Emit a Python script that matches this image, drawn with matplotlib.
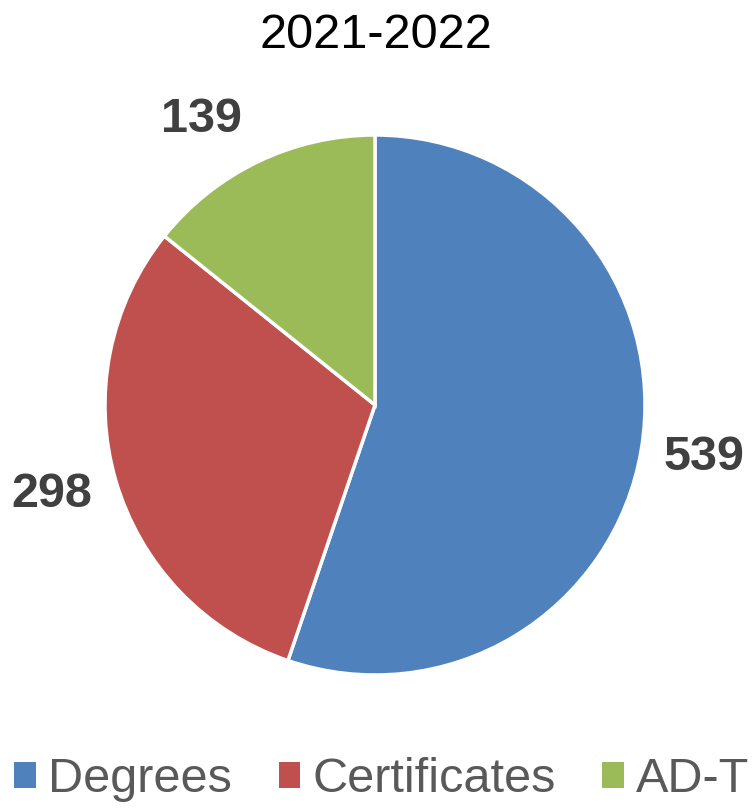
import matplotlib
matplotlib.use('Agg')
import matplotlib.pyplot as plt
from matplotlib.patches import Patch

# data
categories = ['Degrees', 'Certificates', 'AD-T']
values = [539, 298, 139]
colors = ['#4F81BD', '#C0504D', '#9BBB59']
title = '2021-2022'

# label positions (pie units, centre = 0,0, radius = 1)
label_pos = [(1.219, -0.196), (-1.196, -0.333), (-0.641, 1.059)]

plt.rcParams['font.family'] = ['Liberation Sans', 'DejaVu Sans']

fig = plt.figure(figsize=(7.52, 8.08), dpi=100)
ax = fig.add_axes([105/752, (808-405-270)/808, 540/752, 540/808])

wedges, texts = ax.pie(values, colors=colors, startangle=90, counterclock=False,
                       labels=[str(v) for v in values], labeldistance=1.08,
                       wedgeprops=dict(edgecolor='white', linewidth=2.5),
                       textprops=dict(fontsize=35, fontweight='bold', color='#404040'))
for t, p in zip(texts, label_pos):
    t.set_position(p)
    t.set_ha('center')
    t.set_va('center')
ax.set_xlim(-1, 1)
ax.set_ylim(-1, 1)
ax.set_aspect('equal')

fig.text(0.5, 1 - 35/808, title, ha='center', va='center', fontsize=35, color='black')

handles = [Patch(facecolor=c) for c in colors]
fig.legend(handles, categories, loc='center', bbox_to_anchor=(0.5 + 6/752, 1 - 780/808),
           ncol=3, frameon=False, fontsize=35, handlelength=0.45, handleheight=0.45,
           handletextpad=0.25, columnspacing=0.95, labelcolor='#595959',
           borderpad=0, borderaxespad=0)

fig.savefig('out.png', dpi=100)
